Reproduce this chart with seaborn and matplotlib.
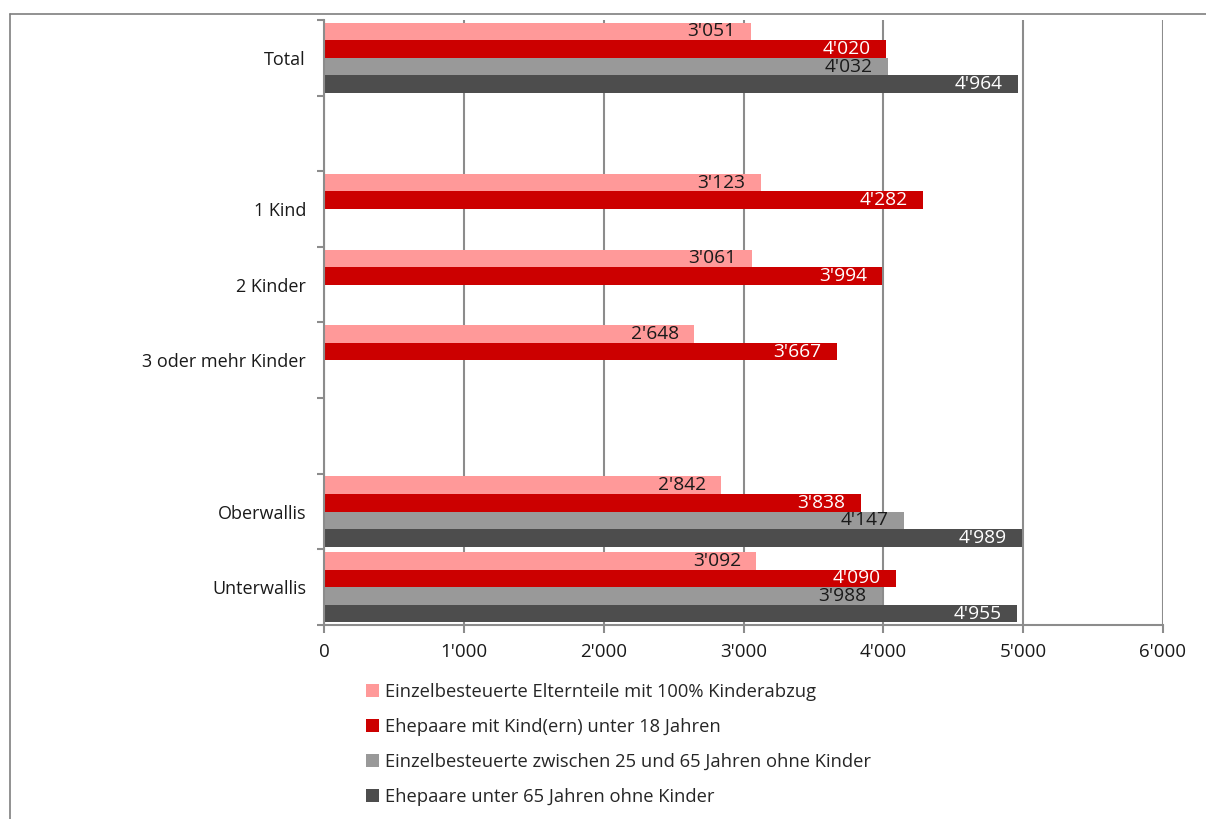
import numpy as np
import pandas as pd
import matplotlib
matplotlib.use("Agg")
import matplotlib.pyplot as plt
from matplotlib.lines import Line2D
from matplotlib.ticker import FixedLocator, FuncFormatter
import seaborn as sns

categories = ["Total", " ", "1 Kind", "2 Kinder", "3 oder mehr Kinder", "  ", "Oberwallis", "Unterwallis"]
series_names = [
    "Einzelbesteuerte Elternteile mit 100% Kinderabzug",
    "Ehepaare mit Kind(ern) unter 18 Jahren",
    "Einzelbesteuerte zwischen 25 und 65 Jahren ohne Kinder",
    "Ehepaare unter 65 Jahren ohne Kinder",
]
s1 = [3051, np.nan, 3123, 3061, 2648, np.nan, 2842, 3092]
s2 = [4020, np.nan, 4282, 3994, 3667, np.nan, 3838, 4090]
s3 = [4032, np.nan, np.nan, np.nan, np.nan, np.nan, 4147, 3988]
s4 = [4964, np.nan, np.nan, np.nan, np.nan, np.nan, 4989, 4955]
colors = ["#FF9999", "#CC0000", "#999999", "#4D4D4D"]
label_colors = ["#1a1a1a", "#ffffff", "#1a1a1a", "#ffffff"]

rows = []
for name, vals in zip(series_names, [s1, s2, s3, s4]):
    for c, v in zip(categories, vals):
        rows.append({"cat": c, "series": name, "value": v})
df = pd.DataFrame(rows)

sns.set_theme(style="white")
plt.rcParams["font.family"] = ["Open Sans", "DejaVu Sans"]

fig = plt.figure(figsize=(12.06, 8.19), dpi=100)
ax = fig.add_axes([324/1206, 1-625/819, (1163-324)/1206, (625-20)/819])

sns.barplot(data=df, y="cat", x="value", hue="series", order=categories,
            hue_order=series_names, palette=colors, orient="h", width=0.93,
            saturation=1, errorbar=None, ax=ax, zorder=2, linewidth=0)

handles, labels = ax.get_legend_handles_labels()
if ax.get_legend() is not None:
    ax.get_legend().remove()

for cont, lc in zip(ax.containers, label_colors):
    for p in cont.patches:
        w = p.get_width()
        if w is None or not np.isfinite(w) or w == 0:
            continue
        yc = p.get_y() + p.get_height() / 2
        ax.annotate(f"{int(round(w)):,}".replace(",", "'"), xy=(w, yc),
                    xytext=(-11, 0), textcoords="offset points",
                    ha="right", va="center", color=lc, fontsize=13.8, zorder=5)

ax.set_xlim(0, 6000)
ax.set_ylim(len(categories) - 0.5, -0.5)
ax.set_xticks(np.arange(0, 6001, 1000))
ax.xaxis.set_major_formatter(FuncFormatter(lambda v, p: f"{int(v):,}".replace(",", "'")))
ax.yaxis.set_minor_locator(FixedLocator(np.arange(-0.5, len(categories), 1.0)))
ax.tick_params(axis="y", which="major", length=0, pad=13, labelsize=13, colors="#1a1a1a")
ax.tick_params(axis="y", which="minor", length=5, width=1.5, color="#8c8c8c", direction="out", left=True)
ax.tick_params(axis="x", which="major", length=6, width=1.5, color="#8c8c8c", direction="out",
               bottom=True, labelsize=13.5, labelcolor="#1a1a1a", pad=7)
ax.set_xlabel("")
ax.set_ylabel("")
ax.grid(axis="x", color="#8c8c8c", linewidth=1.5, zorder=0)
ax.set_axisbelow(True)
for s in ["top", "right"]:
    ax.spines[s].set_visible(False)
for s in ["left", "bottom"]:
    ax.spines[s].set_color("#8c8c8c")
    ax.spines[s].set_linewidth(1.5)

fig.legend(handles, labels, loc="upper left", bbox_to_anchor=(366/1206, 1-683/819),
           frameon=False, fontsize=13.2, handlelength=0.7, handleheight=0.7,
           handletextpad=0.35, labelspacing=0.92, borderaxespad=0, borderpad=0)

fig.add_artist(Line2D([10/1206, 1], [1-14/819, 1-14/819], color="#7f7f7f", linewidth=1.2, transform=fig.transFigure))
fig.add_artist(Line2D([10/1206, 10/1206], [0, 1-14/819], color="#7f7f7f", linewidth=1.2, transform=fig.transFigure))

fig.savefig("out.png", dpi=100)
